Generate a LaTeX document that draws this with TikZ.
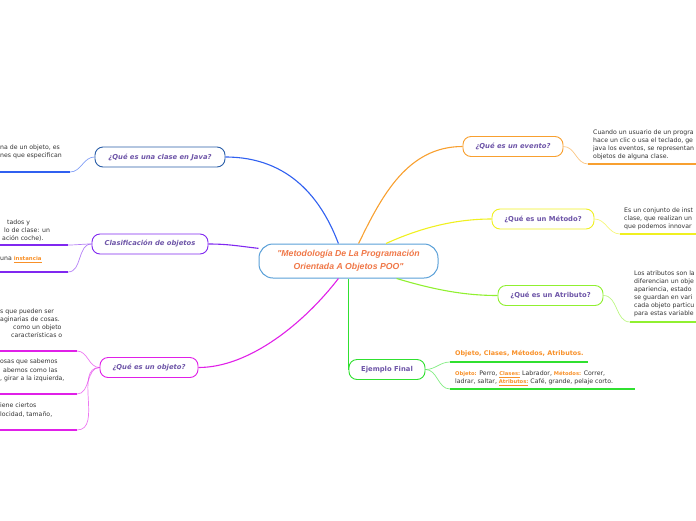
\documentclass[tikz,border=0pt]{standalone}
\usepackage{fontspec}
\setmainfont{DejaVu Sans}
\newfontfamily\arialf{Liberation Sans}
\definecolor{ttl}{HTML}{6E55A8}
\definecolor{txt}{HTML}{333333}
\definecolor{ctr}{HTML}{F07848}
\definecolor{ctrb}{HTML}{5AA0D8}
\definecolor{cblue}{HTML}{3060F0}
\definecolor{cblueb}{HTML}{2A5EA8}
\definecolor{cpur}{HTML}{8028F0}
\definecolor{cmag}{HTML}{E020E8}
\definecolor{corg}{HTML}{F8A030}
\definecolor{cyel}{HTML}{F0F020}
\definecolor{clim}{HTML}{90F030}
\definecolor{cgrn}{HTML}{30E030}
\definecolor{lab}{HTML}{F89028}
\begin{document}
\begin{tikzpicture}[x=1pt,y=-1pt,
  title/.style={draw, rounded corners=8pt, fill=white, line width=0.9pt, minimum height=20pt, inner sep=2pt, font=\fontsize{6.8}{8}\selectfont\bfseries\itshape, text=ttl},
  titleup/.style={title, font=\fontsize{6.8}{8}\selectfont\bfseries},
  body/.style={anchor=north west, inner sep=0pt, align=left, font=\fontsize{6.2}{8}\selectfont, text=txt},
  bline/.style={anchor=base west, inner sep=0pt, font=\fontsize{6.2}{8}\selectfont, text=txt},
  main/.style={line width=1.1pt},
  sub/.style={line width=0.7pt, opacity=0.6},
  uline/.style={line width=2pt}
]
\useasboundingbox (0,0) rectangle (696,520);

% central
\node[draw=ctrb, rounded corners=14pt, line width=1pt, fill=white, minimum width=179pt, minimum height=34pt, align=center, text=ctr,
  font=\arialf\fontsize{8.7}{13}\selectfont\bfseries\itshape] (c) at (348.5,261) {"Metodología De La Programación\\Orientada A Objetos POO"};

% main topic nodes
\node[title, draw=cblueb, minimum width=130pt] (clase) at (160,157) {¿Qué es una clase en Java?};
\node[title, draw=cpur, minimum width=116pt] (clasif) at (150,244) {Clasificación de objetos};
\node[title, draw=cmag, minimum width=98pt] (objeto) at (149,367.5) {¿Qué es un objeto?};
\node[title, draw=corg, minimum width=100pt] (evento) at (513,146.5) {¿Qué es un evento?};
\node[titleup, draw=cyel, minimum width=102pt] (metodo) at (543,219) {¿Qué es un Método?};
\node[titleup, draw=clim, minimum width=105pt] (atrib) at (550.5,295.5) {¿Qué es un Atributo?};
\node[titleup, draw=cgrn, minimum width=76pt] (ejem) at (387,369.5) {Ejemplo Final};

% main connectors
\draw[main, cblue] (c.120) .. controls (322,200) and (290,157) .. (clase.east);
\draw[main, cpur] (c.172) .. controls (238,246) and (228,244) .. (clasif.east);
\draw[main, cmag] (c.240) .. controls (305,322) and (250,367.5) .. (objeto.east);
\draw[main, corg] (c.60) .. controls (382,195) and (408,146.5) .. (evento.west);
\draw[main, cyel] (c.25) .. controls (420,228) and (455,219) .. (metodo.west);
\draw[main, clim] (c.-20) .. controls (435,290) and (465,295.5) .. (atrib.west);
\draw[main, cgrn] (c.south) -- (c.south |- ejem.west);

% --- clase subtopic
\coordinate (clA) at (70,172); \coordinate (clAe) at (-2,172);
\draw[uline, cblue] (clA) -- (clAe);
\draw[sub, cblue] (clase.west) to[out=180,in=0] (clA);
\node[body] (tclA) at (0,144.5) {na de un objeto, es\\nes que especifican};

% --- clasificacion subtopics
\coordinate (cfA) at (68,245); \coordinate (cfAe) at (-2,245);
\coordinate (cfB) at (68,272); \coordinate (cfBe) at (-2,272);
\draw[uline, cpur] (cfA) -- (cfAe);
\draw[uline, cpur] (cfB) -- (cfBe);
\draw[sub, cpur] (clasif.west) to[out=180,in=0] (cfA);
\draw[sub, cpur] (clasif.west) to[out=180,in=0] (cfB);
\node[bline] (tcfA1) at (7,224) {tados y};
\node[bline] (tcfA2) at (4,232.3) {lo de clase: un};
\node[bline] (tcfA3) at (2,240.5) {ación coche).};
\node[bline] (tcfB) at (0,260.5) {una {\fontsize{5.4}{8}\selectfont\bfseries\color{lab}\underline{instancia}}};

% --- objeto subtopics
\coordinate (obA) at (77,351); \coordinate (obAe) at (-2,351);
\coordinate (obB) at (77,394); \coordinate (obBe) at (-2,394);
\coordinate (obC) at (77,430); \coordinate (obCe) at (-2,430);
\draw[uline, cmag] (obA) -- (obAe);
\draw[uline, cmag] (obB) -- (obBe);
\draw[uline, cmag] (obC) -- (obCe);
\draw[sub, cmag] (objeto.west) to[out=180,in=0] (obA);
\draw[sub, cmag] (objeto.west) to[out=180,in=0] (obB);
\draw[sub, cmag] (objeto.west) to[out=180,in=0] (obC);
\node[bline] (tobA1) at (0,313.5) {s que pueden ser};
\node[bline] (tobA2) at (0,321.5) {aginarias de cosas.};
\node[bline] (tobA3) at (13,329.5) {como un objeto};
\node[bline] (tobA4) at (11,337.5) {características o};
\node[bline] (tobB1) at (0,363.8) {osas que sabemos};
\node[bline] (tobB2) at (3,372) {abemos como las};
\node[bline] (tobB3) at (0,380.3) {, girar a la izquierda,};
\node[bline] (tobC1) at (0,407.8) {iene ciertos};
\node[bline] (tobC2) at (0,416) {locidad, tamaño,};

% --- evento
\coordinate (evA) at (588,164); \coordinate (evAe) at (698,164);
\draw[uline, corg] (evA) -- (evAe);
\draw[sub, corg] (evento.east) to[out=0,in=180] (evA);
\node[body] (tevA) at (593,129.5) {Cuando un usuario de un progra\\hace un clic o usa el teclado, ge\\java los eventos, se representan\\objetos de alguna clase.};

% --- metodo
\coordinate (meA) at (620,234); \coordinate (meAe) at (698,234);
\draw[uline, cyel] (meA) -- (meAe);
\draw[sub, cyel] (metodo.east) to[out=0,in=180] (meA);
\node[body] (tmeA) at (624,207.5) {Es un conjunto de inst\\clase, que realizan un\\que podemos innovar};

% --- atributo
\coordinate (atA) at (630,322); \coordinate (atAe) at (698,322);
\draw[uline, clim] (atA) -- (atAe);
\draw[sub, clim] (atrib.east) to[out=0,in=180] (atA);
\node[body] (tatA) at (634,270.5) {Los atributos son la\\diferencian un obje\\apariencia, estado\\se guardan en vari\\cada objeto particu\\para estas variable};

% --- ejemplo
\coordinate (ejA) at (450,362); \coordinate (ejAe) at (588,362);
\coordinate (ejB) at (450,389); \coordinate (ejBe) at (635,389);
\draw[uline, cgrn] (ejA) -- (ejAe);
\draw[uline, cgrn] (ejB) -- (ejBe);
\draw[sub, cgrn] (ejem.east) to[out=0,in=180] (ejA);
\draw[sub, cgrn] (ejem.east) to[out=0,in=180] (ejB);
\node[body, font=\fontsize{6.4}{8}\selectfont\bfseries, text=lab] (tejA) at (455,350.5) {Objeto, Clases, Métodos, Atributos.};
\node[body] (tejB) at (455,370.5) {{\fontsize{5.2}{8}\selectfont\bfseries\color{lab}Objeto:} Perro, {\fontsize{5.2}{8}\selectfont\bfseries\color{lab}\underline{Clases:}} Labrador, {\fontsize{5.2}{8}\selectfont\bfseries\color{lab}Métodos:} Correr,\\ladrar, saltar, {\fontsize{5.2}{8}\selectfont\bfseries\color{lab}\underline{Atributos:}} Café, grande, pelaje corto.};
\end{tikzpicture}
\end{document}
